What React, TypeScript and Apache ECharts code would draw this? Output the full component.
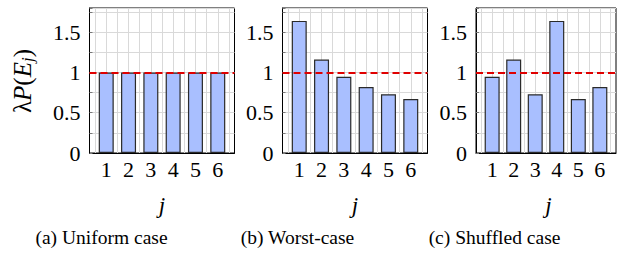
import React, { useEffect, useRef } from "react";
import * as echarts from "echarts";

const categories = [1, 2, 3, 4, 5, 6];
const uniformValues = [1, 1, 1, 1, 1, 1];
const worstValues = [1.64, 1.16, 0.945, 0.82, 0.73, 0.67];
const shuffledValues = [0.945, 1.16, 0.73, 1.64, 0.67, 0.82];
const referenceLevel = 1;
const captions = ["(a) Uniform case", "(b) Worst-case", "(c) Shuffled case"];
const xName = "j";

const SERIF = "'Liberation Serif', 'Times New Roman', 'DejaVu Serif', serif";

export default function App() {
  const ref = useRef<HTMLDivElement>(null);
  useEffect(() => {
    document.body.style.margin = "0";
    const chart = echarts.init(ref.current!, null, { renderer: "svg" });
    const lefts = [89.5, 282.5, 476];
    const panelW = 145;
    const top = 8;
    const panelH = 145;
    const seriesData = [uniformValues, worstValues, shuffledValues];
    const capX = [101.5, 297.5, 494.5];

    const grids = lefts.map((l) => ({
      left: l,
      top,
      width: panelW,
      height: panelH,
      show: true,
      borderColor: "#000",
      borderWidth: 1,
      backgroundColor: "transparent",
      containLabel: false,
    }));

    const xAxes = lefts.map((_, i) => ({
      type: "value",
      gridIndex: i,
      min: 0.25,
      max: 6.75,
      interval: 0.25,
      axisLine: { show: true, lineStyle: { color: "#000", width: 1 } },
      axisTick: { show: false },
      axisLabel: {
        show: true,
        margin: 5,
        fontFamily: SERIF,
        fontSize: 22,
        color: "#000",
        formatter: (v: number) => (Math.abs(v - Math.round(v)) < 1e-6 ? String(Math.round(v)) : ""),
      },
      splitLine: {
        show: true,
        lineStyle: { color: ["rgba(0,0,0,0)", "#d9d9d9"], width: 1 },
      },
    }));

    const yAxes = lefts.map((_, i) => ({
      type: "value",
      gridIndex: i,
      min: 0,
      max: 1.8,
      interval: 0.25,
      axisLine: { show: true, lineStyle: { color: "#000", width: 1 } },
      axisTick: { show: true, inside: true, length: 3, lineStyle: { color: "#777", width: 1 } },
      axisLabel: {
        show: true,
        margin: 9,
        fontFamily: SERIF,
        fontSize: 22,
        color: "#000",
        formatter: (v: number) =>
          Math.abs(v * 2 - Math.round(v * 2)) < 1e-6 ? String(v) : "",
      },
      splitLine: { show: true, lineStyle: { color: "#d9d9d9", width: 1 } },
    }));

    const series = seriesData.map((vals, i) => ({
      type: "bar",
      xAxisIndex: i,
      yAxisIndex: i,
      barWidth: 15,
      data: categories.map((c, k) => [c, vals[k]]),
      itemStyle: { color: "#a9bfff", borderColor: "#2a2a2a", borderWidth: 1.2 },
      silent: true,
      markLine: {
        silent: true,
        symbol: "none",
        label: { show: false },
        lineStyle: { color: "#e00000", width: 2, type: [7, 4] },
        data: [{ yAxis: referenceLevel }],
      },
    }));

    const graphic: any[] = [
      {
        type: "text",
        x: 22,
        y: 81,
        rotation: Math.PI / 2,
        style: {
          text: "{a|λ}{i|P}{a|(}{i|E}{s|j}{a|)}",
          align: "center",
          verticalAlign: "middle",
          fill: "#000",
          rich: {
            a: { fontFamily: SERIF, fontSize: 25, lineHeight: 27, fill: "#000" },
            i: { fontFamily: SERIF, fontStyle: "italic", fontSize: 25, lineHeight: 27, fill: "#000" },
            s: {
              fontFamily: SERIF,
              fontStyle: "italic",
              fontSize: 17,
              lineHeight: 17,
              verticalAlign: "bottom",
              fill: "#000",
            },
          },
        },
      },
    ];
    lefts.forEach((l, i) => {
      graphic.push({
        type: "text",
        x: l + panelW / 2,
        y: 205,
        style: {
          text: xName,
          align: "center",
          verticalAlign: "middle",
          fontFamily: SERIF,
          fontStyle: "italic",
          fontSize: 23,
          fill: "#000",
        },
      });
      graphic.push({
        type: "text",
        x: capX[i],
        y: 237,
        style: {
          text: captions[i],
          align: "center",
          verticalAlign: "middle",
          fontFamily: SERIF,
          fontSize: 19.5,
          fill: "#000",
        },
      });
    });

    chart.setOption({
      animation: false,
      backgroundColor: "#fff",
      grid: grids,
      xAxis: xAxes,
      yAxis: yAxes,
      series,
      graphic,
    } as any);
    return () => chart.dispose();
  }, []);
  return <div ref={ref} style={{ width: 619, height: 255 }} />;
}
